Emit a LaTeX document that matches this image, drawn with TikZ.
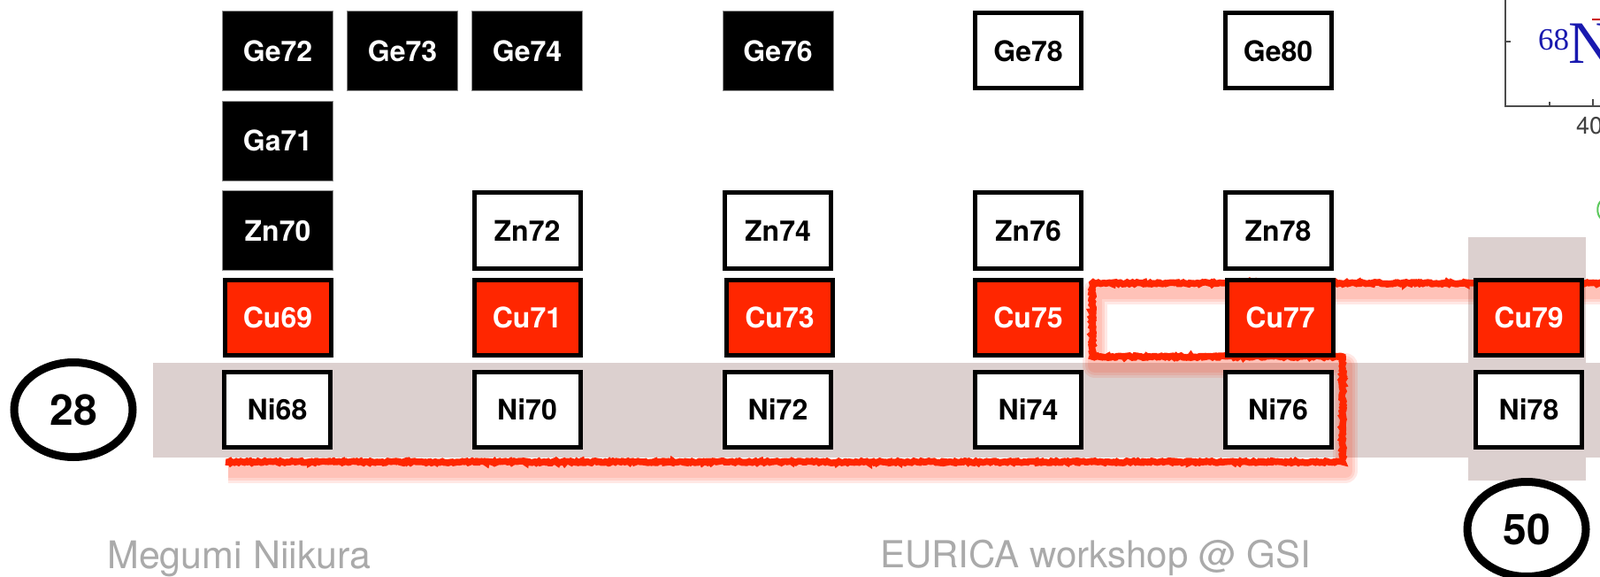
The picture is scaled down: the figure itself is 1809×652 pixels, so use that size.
\documentclass[tikz,border=0pt]{standalone}
\usepackage{fontspec}
\newfontfamily\hv{TeX Gyre Heros}
\newfontfamily\tms{Liberation Serif}
\usetikzlibrary{shapes.geometric,decorations.pathmorphing}
\definecolor{cured}{RGB}{255,38,0}
\definecolor{bandgrey}{RGB}{220,208,207}
\definecolor{footgrey}{RGB}{170,170,170}
\definecolor{nblue}{RGB}{25,25,175}
\definecolor{plotgreen}{RGB}{90,200,90}
\begin{document}
\begin{tikzpicture}[x=1pt,y=-1pt,
  nuc/.style={rectangle, inner sep=0pt, font=\hv\bfseries\fontsize{32}{38}\selectfont},
  blk/.style={nuc, fill=black, draw=black!45, line width=0.8pt, minimum width=125pt, minimum height=90pt, text=white},
  wht/.style={nuc, fill=white, draw=black, line width=5pt, minimum width=120pt, minimum height=85pt, text=black},
  redb/.style={nuc, fill=cured, draw=black, line width=5pt, minimum width=120pt, minimum height=85pt, text=white},
  magic/.style={ellipse, draw=black, line width=9pt, inner sep=0pt, minimum width=134pt, minimum height=107pt, font=\hv\bfseries\fontsize{48}{56}\selectfont},
  foot/.style={font=\hv\fontsize{43}{50}\selectfont, text=footgrey, inner sep=0pt, anchor=base west},
  loopline/.style={draw=cured, line width=7.5pt, line join=miter, decorate, decoration={random steps, segment length=2pt, amplitude=1.1pt}},
  glowline/.style={draw=cured, opacity=0.1, line width=#1, line join=round}
]
\useasboundingbox (0,0) rectangle (1809,652);
\clip (0,0) rectangle (1809,652);
\fill[white] (0,0) rectangle (1809,652);

% grey band (Z=28) and column (N=50)
\fill[bandgrey] (173,410) rectangle (1809,517);
\fill[bandgrey] (1660,268) rectangle (1793,543);

% plot fragment at top right
\draw[black!70, line width=2pt] (1702,0) -- (1702,120) -- (1815,120);
\draw[black!70, line width=1.5pt] (1752,120) -- (1752,115);
\draw[black!70, line width=1.5pt] (1801,120) -- (1801,112);
\draw[black!70, line width=1.5pt] (1702,47) -- (1708,47);
\node[anchor=base west, inner sep=0pt, text=nblue, font=\tms\fontsize{35}{40}\selectfont] (sup68) at (1739,57) {68};
\node[anchor=base west, inner sep=0pt, text=nblue, font=\tms\fontsize{68}{76}\selectfont] (bigN) at (1773,72) {N};
\draw[red!80!black, line width=2pt] (1800,22) -- (1812,22);
\node[anchor=base west, inner sep=0pt, text=black!75, font=\hv\fontsize{27}{32}\selectfont] (ax40) at (1782,152) {40};
\draw[plotgreen, line width=2pt] (1810,227) .. controls (1805,232) and (1805,242) .. (1810,247);

% red loop: glow then line
\foreach \w in {28,22,16}{
  \draw[glowline=\w pt, shift={(3,10)}] (255,522) -- (1518,522) -- (1518,403) -- (1235,403) -- (1235,320) -- (1830,320);
}
\draw[loopline] (255,522) -- (1518,522) -- (1518,403) -- (1235,403) -- (1235,320) -- (1830,320);

% Ge row
\node[blk] (ge72) at (314,57.5) {Ge72};
\node[blk] (ge73) at (455,57.5) {Ge73};
\node[blk] (ge74) at (596,57.5) {Ge74};
\node[blk] (ge76) at (879.5,57.5) {Ge76};
\node[wht] (ge78) at (1162.5,57.5) {Ge78};
\node[wht] (ge80) at (1445,57.5) {Ge80};
% Ga row
\node[blk] (ga71) at (314,159) {Ga71};
% Zn row
\node[blk] (zn70) at (314,260.5) {Zn70};
\node[wht] (zn72) at (596,260.5) {Zn72};
\node[wht] (zn74) at (879.5,260.5) {Zn74};
\node[wht] (zn76) at (1162.5,260.5) {Zn76};
\node[wht] (zn78) at (1445,260.5) {Zn78};
% Cu row
\node[redb] (cu69) at (314,359) {Cu69};
\node[redb] (cu71) at (596,359) {Cu71};
\node[redb] (cu73) at (881.5,359) {Cu73};
\node[redb] (cu75) at (1162.5,359) {Cu75};
\node[redb] (cu77) at (1447.5,359) {Cu77};
\node[redb] (cu79) at (1728.5,359) {Cu79};
% Ni row
\node[wht] (ni68) at (313.5,463) {Ni68};
\node[wht] (ni70) at (596,463) {Ni70};
\node[wht] (ni72) at (879.5,463) {Ni72};
\node[wht] (ni74) at (1162.5,463) {Ni74};
\node[wht] (ni76) at (1445,463) {Ni76};
\node[wht] (ni78) at (1728.5,463) {Ni78};

% magic numbers
\node[magic] (z28) at (83,463) {28};
\node[magic] (n50) at (1726,598) {50};

% footer
\node[foot] (author) at (121,642) {Megumi Niikura};
\node[foot, font=\hv\fontsize{42}{48}\selectfont] (venue) at (995,641) {EURICA workshop @ GSI};
\end{tikzpicture}
\end{document}
